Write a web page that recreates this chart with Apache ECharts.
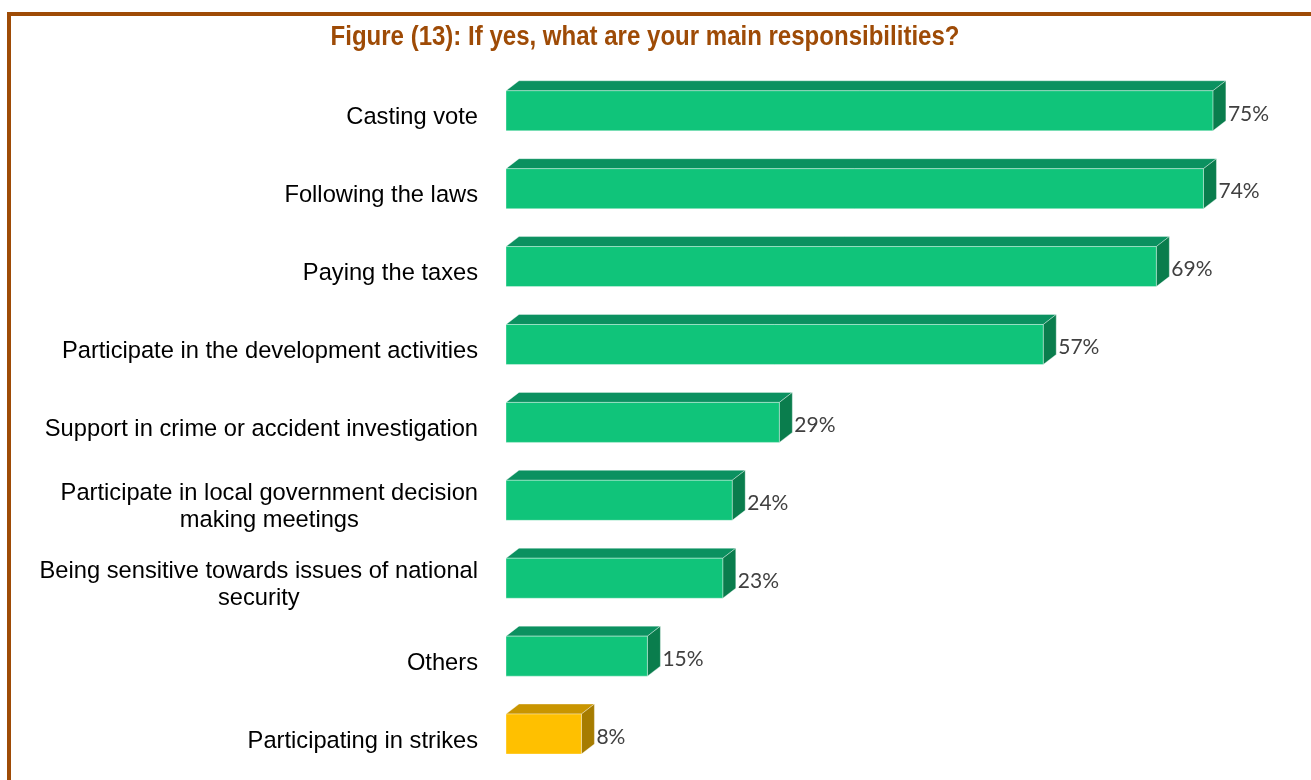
<!DOCTYPE html>
<html>
<head>
<meta charset="utf-8">
<title>Figure (13)</title>
<script src="https://cdn.jsdelivr.net/npm/echarts@6/dist/echarts.min.js"></script>
<style>
  html, body { margin: 0; padding: 0; background: #ffffff; }
  #chart { width: 1311px; height: 780px; }
</style>
</head>
<body>
<div id="chart"></div>
<script>
// Responses: share of respondents naming each responsibility (%)
const categories = [
  'Casting vote',
  'Following the laws',
  'Paying the taxes',
  'Participate in the development activities',
  'Support in crime or accident investigation',
  'Participate in local government decision\nmaking meetings',
  'Being sensitive towards issues of national\nsecurity',
  'Others',
  'Participating in strikes'
];
const values = [75, 74, 69, 57, 29, 24, 23, 15, 8];
const highlighted = ['Participating in strikes'];

const titleText = 'Figure (13): If yes, what are your main responsibilities?';

// Face colours for the box-shaped bars: front, top, side
const greenFaces = { front: '#10C47A', top: '#0B9160', side: '#0A7D4D' };
const goldFaces = { front: '#FFC000', top: '#C99500', side: '#A67C00' };

const DEPTH_X = 13;   // horizontal extrusion of the box
const DEPTH_Y = 10;   // vertical extrusion of the box
const FACE_H = 40;    // height of the front face

function renderBox(params, api) {
  const idx = params.dataIndex;
  const val = api.value(0);
  const start = api.coord([0, idx]);
  const end = api.coord([val, idx]);
  const cy = start[1];
  const x0 = start[0];
  const x1 = end[0];
  const yTop = cy - 27;
  const yBot = yTop + FACE_H;
  const faces = highlighted.indexOf(categories[idx]) >= 0 ? goldFaces : greenFaces;
  return {
    type: 'group',
    children: [
      {
        type: 'polygon',
        shape: { points: [[x0, yTop], [x0 + DEPTH_X, yTop - DEPTH_Y], [x1 + DEPTH_X, yTop - DEPTH_Y], [x1, yTop]] },
        style: { fill: faces.top, stroke: 'rgba(255,255,255,0.35)', lineWidth: 1 }
      },
      {
        type: 'polygon',
        shape: { points: [[x1, yTop], [x1 + DEPTH_X, yTop - DEPTH_Y], [x1 + DEPTH_X, yBot - DEPTH_Y], [x1, yBot]] },
        style: { fill: faces.side, stroke: 'rgba(255,255,255,0.35)', lineWidth: 1 }
      },
      {
        type: 'rect',
        shape: { x: x0, y: yTop, width: x1 - x0, height: FACE_H },
        style: { fill: faces.front, stroke: 'rgba(255,255,255,0.35)', lineWidth: 1 }
      },
      {
        type: 'text',
        x: x1 + DEPTH_X + 2,
        y: cy - 4,
        style: {
          text: val + '%',
          fill: '#404040',
          font: '21px Lato, "Open Sans", sans-serif',
          align: 'left',
          verticalAlign: 'middle'
        }
      }
    ]
  };
}

const chart = echarts.init(document.getElementById('chart'), null, { renderer: 'canvas' });

const labelFont = {
  color: '#000000',
  fontFamily: '"Liberation Sans", Arial, sans-serif',
  fontSize: 23.7,
  lineHeight: 27
};

chart.setOption({
  animation: false,
  backgroundColor: '#ffffff',
  grid: { left: 506, top: 78.8, width: 754, height: 705.6, containLabel: false },
  xAxis: {
    type: 'value',
    min: 0,
    max: 80,
    show: false
  },
  yAxis: {
    type: 'category',
    data: categories,
    inverse: true,
    axisLine: { show: false },
    axisTick: { show: false },
    splitLine: { show: false },
    axisLabel: Object.assign({
      margin: 28,
      // each line is centred under the longest one, the block sits right-aligned
      formatter: function (v) {
        return v.split('\n').map(function (line) { return '{c|' + line + '}'; }).join('\n');
      },
      rich: {
        c: Object.assign({ align: 'center' }, labelFont)
      }
    }, labelFont)
  },
  series: [{
    type: 'custom',
    renderItem: renderBox,
    encode: { x: 0, y: 1 },
    data: values.map(function (v, i) { return [v, i]; })
  }],
  graphic: [
    {
      type: 'rect',
      silent: true,
      shape: { x: 9, y: 14, width: 1400, height: 900 },
      style: { fill: 'none', stroke: '#9E4B06', lineWidth: 4 }
    },
    {
      type: 'text',
      x: 645,
      y: 38,
      scaleX: 0.89,
      style: {
        text: titleText,
        fill: '#9E4B06',
        font: 'bold 27px "Liberation Sans", Arial, sans-serif',
        align: 'center',
        verticalAlign: 'middle'
      }
    }
  ]
});
</script>
</body>
</html>
